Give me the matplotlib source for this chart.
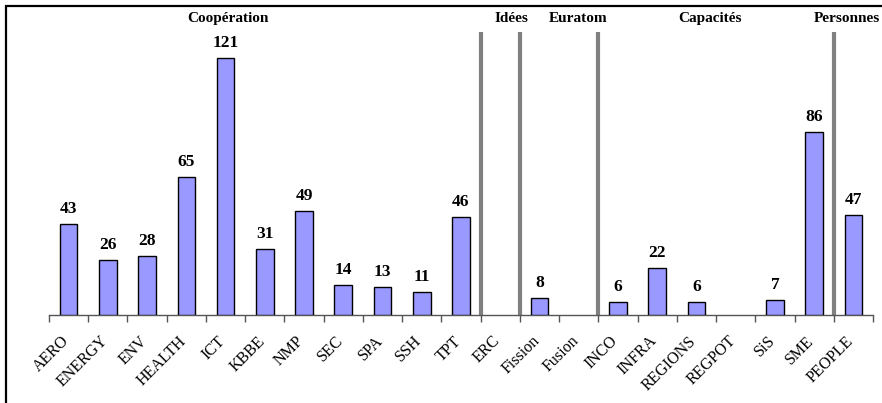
import matplotlib
matplotlib.use("Agg")
import matplotlib.pyplot as plt
from matplotlib.patches import Rectangle
from matplotlib.transforms import ScaledTranslation

categories = ["AERO", "ENERGY", "ENV", "HEALTH", "ICT", "KBBE", "NMP", "SEC", "SPA",
              "SSH", "TPT", "ERC", "Fission", "Fusion", "INCO", "INFRA", "REGIONS",
              "REGPOT", "SiS", "SME", "PEOPLE"]
values = [43, 26, 28, 65, 121, 31, 49, 14, 13, 11, 46, 0, 8, 0, 6, 22, 6, 0, 7, 86, 47]

# programme groups: (label, label position in category units)
group_labels = ["Coopération", "Idées", "Euratom", "Capacités", "Personnes"]
group_label_pos = [4.06, 11.29, 12.98, 16.34, 19.84]
# separators between programme groups (category boundaries)
separators = [10.5, 11.5, 13.5, 19.5]

plt.rcParams["font.family"] = ["Liberation Serif", "DejaVu Serif"]

fig = plt.figure(figsize=(8.82, 4.03), dpi=100)
ax = fig.add_axes([49 / 882, 1 - 315 / 403, 824 / 882, (315 - 32) / 403])

x = list(range(len(categories)))
edge = ["black" if v > 0 else "none" for v in values]
ax.bar(x, values, width=0.45, color="#9999FF", edgecolor=edge, linewidth=1.0, zorder=3)

for xi, v in zip(x, values):
    if v > 0:
        ax.annotate(str(v), (xi, v), xytext=(0, 5), textcoords="offset points",
                    ha="center", va="bottom", fontsize=12.5, fontweight="bold")

for s in separators:
    ax.axvline(s, color="#808080", linewidth=3.0, zorder=2)

for lab, pos in zip(group_labels, group_label_pos):
    ax.text(pos, 1.0 + 14 / 283, lab, transform=ax.get_xaxis_transform(),
            ha="center", va="center", fontsize=11, fontweight="bold", clip_on=False)

ax.set_xlim(-0.5, len(categories) - 0.5)
ax.set_ylim(0, 133.2)
ax.set_yticks([])
for side in ["left", "right", "top"]:
    ax.spines[side].set_visible(False)
ax.spines["bottom"].set_color("#555555")
ax.spines["bottom"].set_linewidth(1.0)

# ticks at category boundaries, labels at category centres
ax.set_xticks([i - 0.5 for i in range(len(categories) + 1)])
ax.set_xticklabels([])
ax.tick_params(axis="x", length=5, width=1, color="#555555", direction="out")
ax.set_xticks(x, minor=True)
ax.set_xticklabels(categories, minor=True, rotation=45, ha="right",
                   rotation_mode="anchor", fontsize=11.5)
ax.tick_params(axis="x", which="minor", length=0, pad=13)
shift = ScaledTranslation(-8 / 100, 0, fig.dpi_scale_trans)
for lbl in ax.get_xticklabels(minor=True):
    lbl.set_transform(lbl.get_transform() + shift)

# outer frame around the figure
fig.patches.append(Rectangle((6 / 882, -0.05), 1.2, 1 - 6 / 403 + 0.05,
                             transform=fig.transFigure, fill=False,
                             edgecolor="black", linewidth=1.6, zorder=0))

fig.savefig("out.png", dpi=100)
